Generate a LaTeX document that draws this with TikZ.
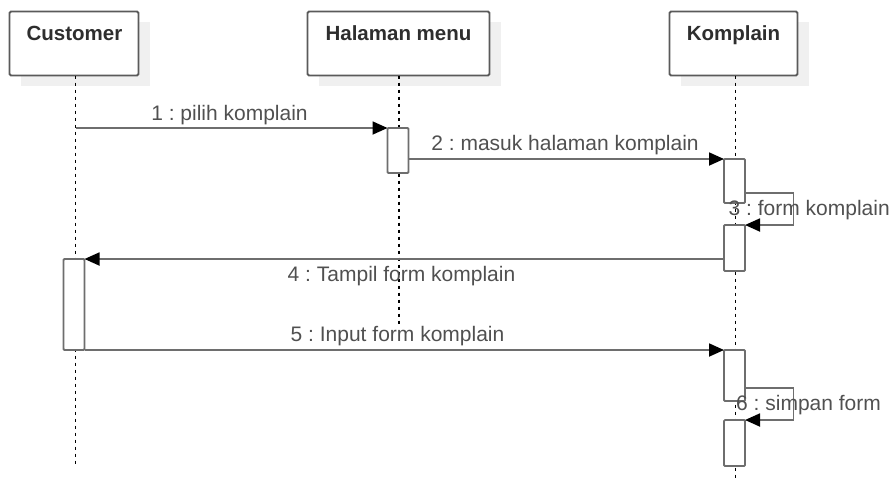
\documentclass[tikz,border=0pt]{standalone}
\usepackage{fontspec}
\setmainfont{Liberation Sans}
\usetikzlibrary{arrows.meta,calc}
\frenchspacing
\definecolor{boxline}{HTML}{5A5A5A}
\definecolor{msgline}{HTML}{6E6E6E}
\definecolor{titletext}{HTML}{2E2E2E}
\definecolor{msgtext}{HTML}{505050}
\definecolor{shadowgray}{HTML}{F0F0F0}
\tikzset{
  objbox/.style={draw=boxline, line width=1.8pt, fill=white, rounded corners=1.5pt,
    anchor=north west, inner sep=0pt, outer sep=0pt, minimum height=64pt},
  shadowbox/.style={fill=shadowgray, draw=none, anchor=north west, inner sep=0pt,
    outer sep=0pt, minimum height=64pt},
  title/.style={font=\fontsize{20.5}{24}\selectfont\bfseries, text=titletext, anchor=base, inner sep=0pt},
  lifeline/.style={draw=black, line width=1.2pt, dash pattern=on 3.5pt off 3.5pt},
  actbox/.style={draw=msgline, line width=1.8pt, fill=white, rounded corners=1pt,
    anchor=north west, inner sep=0pt, outer sep=0pt, minimum width=21pt},
  msg/.style={draw=msgline, line width=1.8pt,
    -{Triangle[length=15pt,width=13pt,fill=black,color=black]}},
  msglabel/.style={font=\fontsize{21}{25}\selectfont, text=msgtext, anchor=base, inner sep=0pt},
  msglabelw/.style={msglabel, anchor=base west}
}
\begin{document}
\begin{tikzpicture}[x=1pt,y=-1pt]
  \useasboundingbox (0,0) rectangle (893,483);

  % object boxes with their soft shadows
  \node[shadowbox, minimum width=129pt] (cshadow) at (21,22) {};
  \node[shadowbox, minimum width=182pt] (hshadow) at (319,22) {};
  \node[shadowbox, minimum width=128pt] (kshadow) at (681,22) {};
  \node[objbox, minimum width=129pt] (customer) at (9.5,11.5) {};
  \node[objbox, minimum width=182pt] (halaman) at (307.5,11.5) {};
  \node[objbox, minimum width=128pt] (komplain) at (669.5,11.5) {};
  \node[title] (tcustomer) at (74.5,40) {Customer};
  \node[title] (thalaman) at (398.5,40) {Halaman menu};
  \node[title] (tkomplain) at (733.5,40) {Komplain};

  % lifelines
  \coordinate (cend) at (75.5,467);
  \coordinate (hend) at (399,326);
  \coordinate (kend) at (735.5,480);
  \draw[lifeline] (customer.south -| cend) -- (cend);
  \draw[lifeline] (halaman.south -| hend) -- (hend);
  \draw[lifeline] (komplain.south -| kend) -- (kend);

  % activation bars
  \node[actbox, minimum height=45pt] (hA) at (387.5,128) {};
  \node[actbox, minimum height=44pt] (k1) at (724,159) {};
  \node[actbox, minimum height=46pt] (k2) at (724,225) {};
  \node[actbox, minimum height=91pt] (cA) at (63.5,259) {};
  \node[actbox, minimum height=51pt] (k3) at (724,350) {};
  \node[actbox, minimum height=46pt] (k4) at (724,420) {};

  % messages
  \coordinate (m1) at (75.5,128);
  \draw[msg] (m1) -- (hA.north west);
  \node[msglabel] (l1) at (229.5,120) {1 : pilih komplain};

  \draw[msg] (hA.east |- k1.north west) -- (k1.north west);
  \node[msglabel] (l2) at (565,150) {2 : masuk halaman komplain};

  \coordinate (loop3) at (793.5,209);
  \draw[msg] ($(k1.south east)+(0,-10)$) -| (loop3) |- (k2.north east);
  \node[msglabelw] (l3) at (728.5,215) {3 : form komplain};

  \draw[msg] (k2.west |- cA.north) -- (cA.north east);
  \node[msglabel] (l4) at (401.5,281.5) {4 : Tampil form komplain};

  \draw[msg] (cA.south east) -- (k3.north west);
  \node[msglabel] (l5) at (397.5,341.5) {5 : Input form komplain};

  \coordinate (loop6) at (793.5,404);
  \draw[msg] ($(k3.south east)+(0,-13)$) -| (loop6) |- (k4.north east);
  \node[msglabelw] (l6) at (736,410) {6 : simpan form};
\end{tikzpicture}
\end{document}
